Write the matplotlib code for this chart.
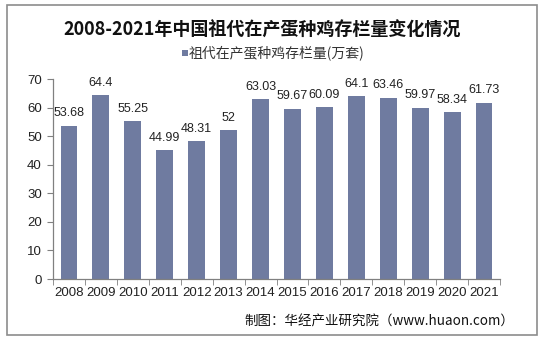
import matplotlib
matplotlib.use("Agg")
import matplotlib.pyplot as plt
from matplotlib.patches import Rectangle
import numpy as np

plt.rcParams['font.family'] = ['Noto Sans CJK SC', 'DejaVu Sans']

years = ['2008', '2009', '2010', '2011', '2012', '2013', '2014',
         '2015', '2016', '2017', '2018', '2019', '2020', '2021']
stock = [53.68, 64.4, 55.25, 44.99, 48.31, 52, 63.03,
         59.67, 60.09, 64.1, 63.46, 59.97, 58.34, 61.73]
value_labels = ['53.68', '64.4', '55.25', '44.99', '48.31', '52', '63.03',
                '59.67', '60.09', '64.1', '63.46', '59.97', '58.34', '61.73']
series_name = '祖代在产蛋种鸡存栏量(万套)'
title = '2008-2021年中国祖代在产蛋种鸡存栏量变化情况'
source = '制图：华经产业研究院（www.huaon.com）'

bar_color = '#6f7ba0'
num_font = ['Liberation Sans', 'DejaVu Sans']
W, H = 543, 341
fig = plt.figure(figsize=(W / 100, H / 100), dpi=100)

# outer frame
fig.patches.append(Rectangle((7 / W, 6 / H), 530 / W, 330 / H, transform=fig.transFigure,
                             fill=False, edgecolor='#8c8c8c', linewidth=1.2))

ax = fig.add_axes([53 / W, 1 - 279 / H, 447 / W, 200 / H])
x = np.arange(len(years))
ax.bar(x, stock, width=0.53, color=bar_color, zorder=2)
for xi, v, t in zip(x, stock, value_labels):
    ax.text(xi, v + 2.2, t, ha='center', va='bottom', fontsize=9,
            family=num_font, color='#222222')

ax.set_xlim(-0.5, len(years) - 0.5)
ax.set_ylim(0, 70)
ax.set_yticks(range(0, 71, 10))
ax.set_xticks(x)
ax.set_xticklabels(years)
ax.set_xticks(np.arange(-0.5, len(years), 1), minor=True)
ax.tick_params(axis='x', which='major', length=0, pad=6, labelsize=9.5)
ax.tick_params(axis='x', which='minor', length=4, color='#808080', direction='out')
ax.tick_params(axis='y', length=4, color='#808080', labelsize=9.5, pad=4)
for lab in ax.get_xticklabels() + ax.get_yticklabels():
    lab.set_family(num_font)
    lab.set_color('#222222')
for s in ['top', 'right']:
    ax.spines[s].set_visible(False)
for s in ['left', 'bottom']:
    ax.spines[s].set_color('#808080')
    ax.spines[s].set_linewidth(0.9)

fig.text(262 / W, 1 - 30 / H, title, ha='center', va='center', fontsize=13,
         fontweight='bold', color='#111111')

# legend
fig.patches.append(Rectangle((182 / W, 1 - 56 / H), 6 / W, 6 / H, transform=fig.transFigure,
                             facecolor=bar_color, edgecolor='none'))
fig.text(189 / W, 1 - 53 / H, series_name, ha='left', va='center', fontsize=10, color='#333333')

fig.text(514 / W, 1 - 322 / H, source, ha='right', va='center', fontsize=9.7, color='#111111')

fig.savefig('out.png', dpi=100)
